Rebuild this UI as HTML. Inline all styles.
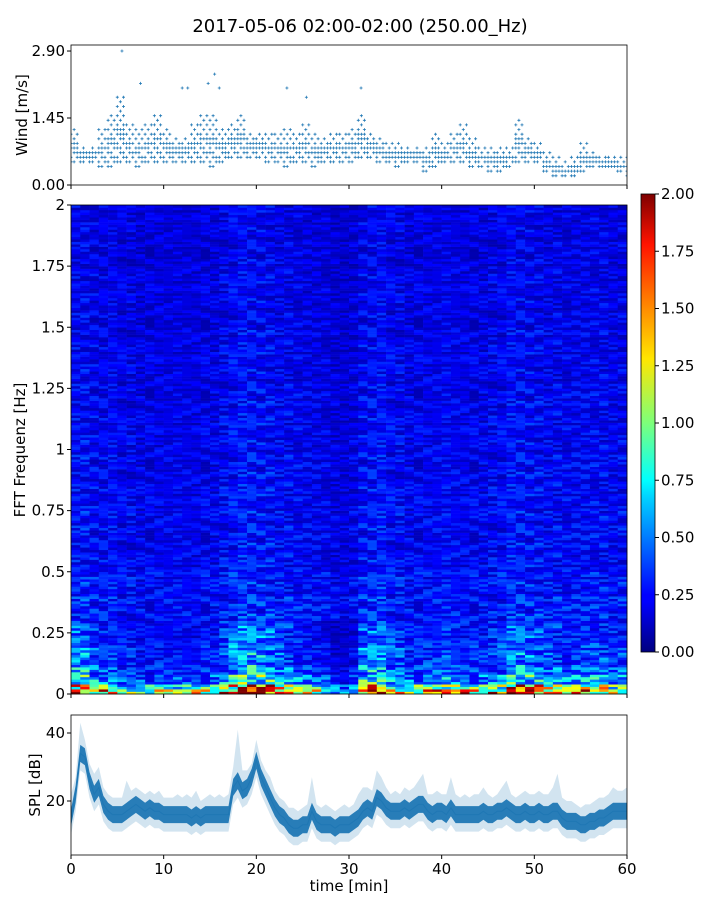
<!DOCTYPE html>
<html><head><meta charset="utf-8"><style>
body{margin:0;background:#fff;}
svg text{font-family:"DejaVu Sans","Liberation Sans",sans-serif;fill:#000;}
</style></head><body>
<svg id="fig" width="720" height="900" xmlns="http://www.w3.org/2000/svg">
<defs>
<linearGradient id="jet" x1="0" y1="1" x2="0" y2="0">
<stop offset="0" stop-color="#00007f"/><stop offset="0.11" stop-color="#0000ff"/><stop offset="0.125" stop-color="#0000ff"/>
<stop offset="0.34" stop-color="#00d4ff"/><stop offset="0.375" stop-color="#00ffff"/><stop offset="0.5" stop-color="#7dff7a"/>
<stop offset="0.64" stop-color="#ffe600"/><stop offset="0.75" stop-color="#ff8c00"/><stop offset="0.89" stop-color="#ff1300"/><stop offset="1" stop-color="#7f0000"/>
</linearGradient>
<clipPath id="clipTop"><rect x="71" y="45" width="556" height="140"/></clipPath>
<clipPath id="clipBot"><rect x="71" y="715" width="556" height="140"/></clipPath>
</defs>
<text x="360" y="32" font-size="18" text-anchor="middle">2017-05-06 02:00-02:00 (250.00_Hz)</text>
<g id="wind"></g>
<g id="spec"></g>
<g id="cbar"></g>
<g id="spl"></g>
</svg>
<script>
// ---- wind data (per minute low/high of quantized readings) ----
const windLo=[0.5,0.5,0.5,0.4,0.4,0.5,0.5,0.4,0.5,0.5,0.5,0.5,0.5,0.5,0.5,0.4,0.5,0.6,0.6,0.6,0.6,0.5,0.5,0.4,0.5,0.5,0.4,0.5,0.5,0.5,0.5,0.6,0.6,0.5,0.5,0.4,0.5,0.5,0.3,0.4,0.5,0.5,0.5,0.4,0.4,0.3,0.3,0.4,0.5,0.5,0.5,0.3,0.2,0.2,0.2,0.3,0.4,0.4,0.4,0.3,0.2];
const windHi=[1.2,0.8,0.8,1.2,1.5,1.9,1.3,1.2,1.3,1.5,1.2,1.0,1.0,1.3,1.5,1.5,1.2,1.3,1.5,1.1,1.1,1.1,1.1,1.2,1.1,1.3,1.1,1.0,1.1,1.1,1.2,1.5,1.1,1.0,0.9,0.9,0.8,0.8,0.8,1.1,0.9,1.1,1.3,1.0,0.8,0.8,0.8,0.8,1.4,1.0,0.9,0.7,0.6,0.5,0.6,0.9,0.7,0.6,0.6,0.6,0.7];
const windOutT=[5.5,7.5,12.0,12.6,14.8,15.5,16.0,23.3,31.3,25.4];
const windOutV=[2.9,2.2,2.1,2.1,2.2,2.4,2.1,2.1,2.1,1.9];
const windTicks=[0,1.45,2.9];
// ---- spectrogram data ----
const specTime=[1.25,1.2,1.0,0.9,0.9,0.85,0.85,0.8,0.8,0.85,0.8,0.8,0.8,0.8,0.85,0.85,1.0,1.2,1.25,1.3,1.25,1.2,1.1,1.0,0.9,0.85,0.8,0.75,0.6,0.6,0.7,1.15,1.2,1.15,1.05,1.0,0.9,0.9,0.95,0.95,1.0,0.95,0.9,0.9,0.9,0.95,1.0,1.15,1.2,1.15,1.1,1.05,1.0,0.9,0.95,1.0,1.0,1.0,0.95,0.95];
const specFreq=[0.02,0.04,0.08,0.12,0.2,0.3,0.4,0.5,0.75,1.0,1.25,1.5,1.75,2.0];
const specLevel=[1.6,1.0,0.6,0.45,0.38,0.33,0.3,0.28,0.25,0.24,0.23,0.22,0.21,0.2];
const specStripe=[1.0,0.55,1.3,0.8,1.45,0.5,1.05,0.85,1.6,0.7,1.15,0.6,1.3,0.95,0.75,1.5,0.65,1.2,0.9,1.35,0.5,1.0,1.25,0.6,0.85,1.1,0.45,1.4,0.9];
const specTicks=[0,0.25,0.5,0.75,1,1.25,1.5,1.75,2];
const specTickLabels=["0","0.25","0.5","0.75","1","1.25","1.5","1.75","2"];
const cbarTicks=[0,0.25,0.5,0.75,1,1.25,1.5,1.75,2];
// ---- SPL data (per half minute, 0..60) ----
const splMean=[15,22,34,33,26,22,24,19,17,16,16,16,17,18,19,18,17,18,17,17,16,16,16,16,16,16,15,16,15,16,16,16,16,16,16,24,26,23,24,27,32,27,24,21,18,16,15,13,12,12,13,13,17,14,13,13,13,12,13,13,13,14,15,17,18,17,21,20,18,17,17,17,18,17,18,19,19,17,16,17,17,16,18,16,16,16,16,16,16,17,16,16,17,17,18,17,16,16,17,16,16,17,16,16,17,17,15,14,14,14,13,13,14,14,15,15,16,17,17,17,17];
const splPeak=[22,27,43,38,31,28,30,24,22,21,21,21,26,23,24,23,22,23,22,23,21,21,21,22,21,22,21,23,20,21,22,21,22,21,22,30,41,29,29,31,38,32,29,27,23,21,20,18,18,17,18,19,27,19,18,19,18,17,18,19,18,19,22,24,24,23,29,27,24,22,23,22,24,23,24,26,28,22,22,23,22,22,27,22,21,22,21,22,22,24,22,21,22,24,26,22,21,22,23,22,22,23,22,22,24,28,21,20,20,19,18,19,19,20,21,21,22,24,23,23,24];
const splTicks=[20,40];
const timeTicks=[0,10,20,30,40,50,60];

const NS="http://www.w3.org/2000/svg";
function el(tag,attrs,parent){const e=document.createElementNS(NS,tag);for(const k in attrs)e.setAttribute(k,attrs[k]);parent.appendChild(e);return e;}
const X0=71,X1=627;
const xs=t=>X0+(X1-X0)*t/60;

// ---------- WIND ----------
const gw=document.getElementById('wind');
const wy=v=>185-v*46.2;
const wPts=el('g',{'clip-path':'url(#clipTop)'},gw);


let d='';
for(let m=0;m<windLo.length;m++){
  for(let s=0;s<3;s++){
    const t=m+s/3; if(t>60)break;
    const x=xs(t);
    const mid=(windLo[m]+windHi[m])/2;
    let k=0;
    for(let v=windLo[m];v<=windHi[m]+1e-6;v+=0.1,k++){
      if(v>mid+0.05 && (k+s)%2===1) continue;
      if(v<mid-0.1 && (k+s)%3===2) continue;
      const y=wy(v);
      d+=`M${(x-1.5).toFixed(1)} ${y.toFixed(1)}h3M${x.toFixed(1)} ${(y-1.5).toFixed(1)}v3`;
    }
  }
}
for(let i=0;i<windOutT.length;i++){const x=xs(windOutT[i]),y=wy(windOutV[i]);d+=`M${x-1.5} ${y}h3M${x} ${y-1.5}v3`;}
el('path',{d:d,stroke:'#1f77b4','stroke-width':0.8,fill:'none'},wPts);
const wf=el('rect',{x:X0,y:45,width:X1-X0,height:140,fill:'none',stroke:'#000','stroke-width':0.8},gw);


windTicks.forEach(v=>{const y=wy(v);el('line',{x1:X0-4,x2:X0,y1:y,y2:y,stroke:'#000'},gw);
  const t=el('text',{x:X0-6,y:y+5,'font-size':15,'text-anchor':'end'},gw);t.textContent=v.toFixed(2);
  
  });
timeTicks.forEach(v=>el('line',{x1:xs(v),x2:xs(v),y1:185,y2:189,stroke:'#000'},gw));
const wl=el('text',{transform:'translate(27,115) rotate(-90)','font-size':15,'text-anchor':'middle'},gw);wl.textContent='Wind [m/s]';



// ---------- SPECTROGRAM ----------
const gs=document.getElementById('spec');
const SY0=694,SY1=205;
const sy=f=>SY0-(SY0-SY1)*f/2;
function jet(x){x=Math.max(0,Math.min(1,x));const c=v=>Math.round(255*Math.max(0,Math.min(1,v)));
  return `rgb(${c(1.5-Math.abs(4*x-3))},${c(1.5-Math.abs(4*x-2))},${c(1.5-Math.abs(4*x-1))})`;}
function levelAt(f){for(let i=0;i<specFreq.length;i++){if(f<=specFreq[i])return specLevel[i];}return specLevel[specLevel.length-1];}
const NR=200,cw=(X1-X0)/specTime.length,rh=(SY0-SY1)/NR;
const cells=el('g',{},gs);


const L=specStripe.length;
for(let c=0;c<specTime.length;c++){
  for(let r=0;r<NR;r++){
    const f=(r+0.5)*2/NR;
    const base=levelAt(f);
    const low=f<0.3?Math.pow(specTime[c],1.6):Math.sqrt(specTime[c]);
    const st=specStripe[(r*r*3+r*11+c*c*5+c*r)%L];
    let v=base*low*st;
    el('rect',{x:(X0+c*cw).toFixed(2),y:(SY0-(r+1)*rh).toFixed(2),width:(cw+0.3).toFixed(2),height:(rh+0.3).toFixed(2),fill:jet(v/2)},cells);
  }
}
const sf=el('rect',{x:X0,y:SY1,width:X1-X0,height:SY0-SY1,fill:'none',stroke:'#000','stroke-width':0.8},gs);


specTicks.forEach((v,i)=>{const y=sy(v);el('line',{x1:X0-4,x2:X0,y1:y,y2:y,stroke:'#000'},gs);
  const t=el('text',{x:X0-6,y:y+5,'font-size':15,'text-anchor':'end'},gs);t.textContent=specTickLabels[i];
  
  });
timeTicks.forEach(v=>el('line',{x1:xs(v),x2:xs(v),y1:SY0,y2:SY0+4,stroke:'#000'},gs));
const sl=el('text',{transform:'translate(25,450) rotate(-90)','font-size':15,'text-anchor':'middle'},gs);sl.textContent='FFT Frequenz [Hz]';



// ---------- COLORBAR ----------
const gc=document.getElementById('cbar');
const CY0=652,CY1=194;
el('rect',{x:641,y:CY1,width:14,height:CY0-CY1,fill:'url(#jet)',stroke:'#000','stroke-width':0.8},gc);
cbarTicks.forEach(v=>{const y=CY0-(CY0-CY1)*v/2;el('line',{x1:655,x2:659,y1:y,y2:y,stroke:'#000'},gc);
  const t=el('text',{x:661,y:y+5,'font-size':15},gc);t.textContent=v.toFixed(2);
  
  });

// ---------- SPL ----------
const gp=document.getElementById('spl');
const py=v=>801-(v-20)*3.4;
const pg=el('g',{'clip-path':'url(#clipBot)'},gp);


const tt=i=>xs(i*60/(splMean.length-1));
let up='',lo='',up2='',lo2='';
for(let i=0;i<splMean.length;i++){
  const x=tt(i).toFixed(1);
  up+=`${x},${py(splMean[i]+2.5).toFixed(1)} `;lo=`${x},${py(splMean[i]-2.5).toFixed(1)} `+lo;
  up2+=`${x},${py(splPeak[i]).toFixed(1)} `;lo2=`${x},${py(splMean[i]-5).toFixed(1)} `+lo2;
}
el('polygon',{points:up2+lo2,fill:'#1f77b4','fill-opacity':0.2},pg);
el('polygon',{points:up+lo,fill:'#1f77b4','fill-opacity':0.95},pg);
let ln='';for(let i=0;i<splMean.length;i++)ln+=`${tt(i).toFixed(1)},${py(splMean[i]).toFixed(1)} `;
el('polyline',{points:ln,fill:'none',stroke:'#1f77b4','stroke-width':1},pg);
const pf=el('rect',{x:X0,y:715,width:X1-X0,height:140,fill:'none',stroke:'#000','stroke-width':0.8},gp);


splTicks.forEach(v=>{const y=py(v);el('line',{x1:X0-4,x2:X0,y1:y,y2:y,stroke:'#000'},gp);
  const t=el('text',{x:X0-6,y:y+5,'font-size':15,'text-anchor':'end'},gp);t.textContent=v;
  
  });
timeTicks.forEach(v=>{el('line',{x1:xs(v),x2:xs(v),y1:855,y2:859,stroke:'#000'},gp);
  const t=el('text',{x:xs(v),y:874,'font-size':15,'text-anchor':'middle'},gp);t.textContent=v;
  
  });
const pl=el('text',{transform:'translate(40,785) rotate(-90)','font-size':15,'text-anchor':'middle'},gp);pl.textContent='SPL [dB]';


const xl=el('text',{x:349,y:891,'font-size':15,'text-anchor':'middle'},gp);xl.textContent='time [min]';


</script>
</body></html>
